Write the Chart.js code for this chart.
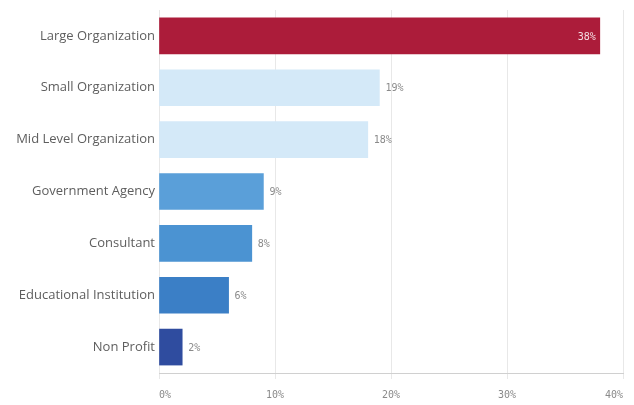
<!DOCTYPE html>
<html>
<head>
<meta charset="utf-8">
<script src="https://cdn.jsdelivr.net/npm/chart.js@4"></script>
<style>
    html, body { margin: 0; padding: 0; background: #fff; }
    #wrap { width: 634px; height: 405px; }
</style>
</head>
<body>
<div id="wrap"><canvas id="orgChart"></canvas></div>
<script>
// Data
const categories = ['Large Organization', 'Small Organization', 'Mid Level Organization',
    'Government Agency', 'Consultant', 'Educational Institution', 'Non Profit'];
const shares = [38, 19, 18, 9, 8, 6, 2];
const xTicks = [0, 10, 20, 30, 40];
const barColors = ['#AC1C3A', '#D4E9F8', '#D4E9F8', '#5A9FD9', '#4B93D2', '#3B7FC6', '#2F4C9F'];

// Value labels next to (or inside) each bar
const valueLabels = {
    id: 'valueLabels',
    afterDatasetsDraw(chart) {
        const ctx = chart.ctx;
        const meta = chart.getDatasetMeta(0);
        ctx.save();
        ctx.font = '10px "DejaVu Sans Mono", monospace';
        ctx.textBaseline = 'middle';
        meta.data.forEach((bar, i) => {
            const v = shares[i];
            const text = v + '%';
            if (v > 30) {
                ctx.fillStyle = '#f4dce2';
                ctx.textAlign = 'right';
                ctx.fillText(text, bar.x - 4, bar.y + 1);
            } else {
                ctx.fillStyle = '#8a8a8a';
                ctx.textAlign = 'left';
                ctx.fillText(text, bar.x + 6, bar.y + 1);
            }
        });
        ctx.restore();
    }
};

new Chart(document.getElementById('orgChart').getContext('2d'), {
    type: 'bar',
    data: {
        labels: categories,
        datasets: [{
            data: shares,
            backgroundColor: barColors,
            barThickness: 36
        }]
    },
    options: {
        indexAxis: 'y',
        responsive: true,
        maintainAspectRatio: false,
        animation: false,
        layout: { padding: { top: 10, right: 11, left: 0, bottom: 0 } },
        plugins: {
            legend: { display: false },
            tooltip: { enabled: false }
        },
        scales: {
            x: {
                min: 0,
                max: 40,
                afterBuildTicks(scale) {
                    scale.ticks = xTicks.map(v => ({ value: v }));
                },
                afterFit(scale) {
                    scale.height = 32;
                    scale.paddingLeft = 0;
                    scale.paddingRight = 0;
                },
                grid: {
                    color: '#e8e8e8',
                    tickLength: 6,
                    drawTicks: true
                },
                border: { color: '#d0d0d0' },
                ticks: {
                    padding: 10,
                    align: 'inner',
                    color: '#8a8a8a',
                    font: { family: '"DejaVu Sans Mono", monospace', size: 10 },
                    callback: v => v + '%'
                }
            },
            y: {
                afterFit(scale) { scale.width = 159; },
                grid: { display: false },
                border: { display: false },
                ticks: {
                    padding: -4,
                    color: '#5e5e5e',
                    font: { family: '"Open Sans", sans-serif', size: 13 }
                }
            }
        }
    },
    plugins: [valueLabels]
});
</script>
</body>
</html>
